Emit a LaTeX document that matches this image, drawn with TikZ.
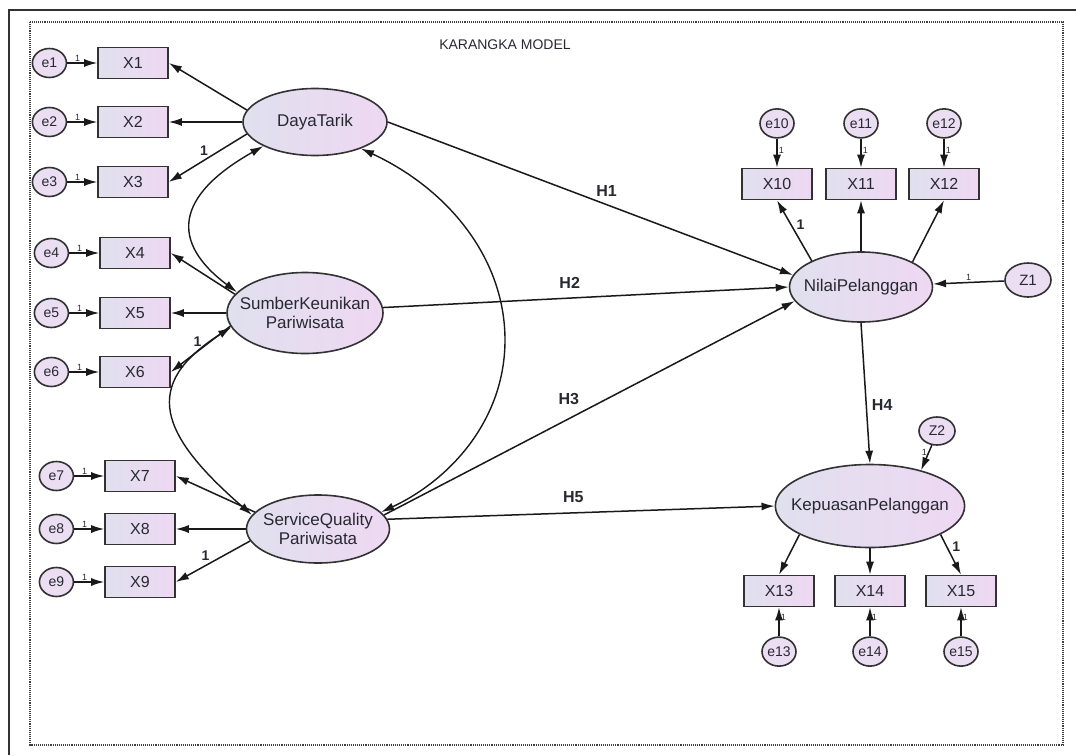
\documentclass[tikz,border=0pt]{standalone}
\usepackage{fontspec}
\setmainfont{Liberation Sans}
\usepackage{tikz}
\usetikzlibrary{arrows.meta,positioning,shapes.geometric}
\definecolor{framegray}{RGB}{50,50,50}
\definecolor{inkgray}{RGB}{40,40,50}
\definecolor{lavleft}{RGB}{224,224,238}
\definecolor{lavright}{RGB}{238,216,242}
\definecolor{errfill}{RGB}{236,222,242}

\begin{document}
\begin{tikzpicture}[x=1pt, y=-1pt, >={Latex[length=13pt,width=8pt]}, node distance=29pt and 30pt,
 every node/.style={text=inkgray},
 lat/.style={draw=framegray,ellipse,line width=1.6pt,left color=lavleft,right color=lavright,inner xsep=-12pt,align=center,font=\fontsize{17}{19}\selectfont},
 obs/.style={draw=framegray,line width=1.6pt,left color=lavleft,right color=lavright,minimum width=70pt,minimum height=31pt,inner sep=0pt,font=\fontsize{16}{16}\selectfont},
 err/.style={draw=framegray,ellipse,line width=1.6pt,fill=errfill,minimum width=34pt,minimum height=29pt,inner sep=0pt,font=\fontsize{14}{14}\selectfont},
 link/.style={->,line width=1.5pt,draw=black!90},
 cov/.style={<->,line width=1.4pt,draw=black!90},
 one/.style={inner sep=1pt,font=\fontsize{9}{9}\selectfont},
 load/.style={inner sep=1pt,font=\bfseries\fontsize{14}{14}\selectfont},
 hyp/.style={inner sep=1pt,font=\bfseries\fontsize{16}{16}\selectfont}]
\useasboundingbox (0,0) rectangle (1076,755);
\draw[framegray,line width=1.8pt] (9,755) -- (9,10) -- (1076,10);
\draw[densely dotted,line width=1.1pt,black!75] (30,22) rectangle (1063,745);
\node[font=\fontsize{14}{14}\selectfont] (title) at (505,45) {KARANGKA MODEL};

\node[lat,minimum width=144pt,minimum height=67pt] (dt) at (315,122) {DayaTarik};
\node[lat,minimum width=156pt,minimum height=81pt] (sk) at (305,313) {SumberKeunikan\\Pariwisata};
\node[lat,minimum width=143pt,minimum height=68pt] (sq) at (318,529) {ServiceQuality\\Pariwisata};
\node[lat,minimum width=143pt,minimum height=70pt] (nl) at (861,287) {NilaiPelanggan};
\node[lat,minimum width=180pt,minimum height=83pt] (kp) at (870,506) {KepuasanPelanggan};

\node[obs] (x1) at (133,63) {X1};
\node[obs] (x2) at (133,122) {X2};
\node[obs] (x3) at (133,182) {X3};
\node[obs] (x4) at (135,253) {X4};
\node[obs] (x5) at (135,313) {X5};
\node[obs] (x6) at (135,372) {X6};
\node[obs] (x7) at (140,476) {X7};
\node[obs] (x8) at (140,529) {X8};
\node[obs] (x9) at (140,582) {X9};
\node[obs] (x10) at (777,184) {X10};
\node[obs] (x11) at (861,184) {X11};
\node[obs] (x12) at (944,184) {X12};
\node[obs] (x13) at (779,591) {X13};
\node[obs] (x14) at (870,591) {X14};
\node[obs] (x15) at (961,591) {X15};

\node[err,left=of x1] (e1) {e1};
\node[err,left=of x2] (e2) {e2};
\node[err,left=of x3] (e3) {e3};
\node[err,left=of x4] (e4) {e4};
\node[err,left=of x5] (e5) {e5};
\node[err,left=of x6] (e6) {e6};
\node[err,left=of x7] (e7) {e7};
\node[err,left=of x8] (e8) {e8};
\node[err,left=of x9] (e9) {e9};
\node[err,above=of x10] (e10) {e10};
\node[err,above=of x11] (e11) {e11};
\node[err,above=of x12] (e12) {e12};
\node[err,below=of x13] (e13) {e13};
\node[err,below=of x14] (e14) {e14};
\node[err,below=of x15] (e15) {e15};
\node[err,minimum width=46pt,minimum height=34pt,font=\fontsize{15}{15}\selectfont] (z1) at (1028,280) {Z1};
\node[err,minimum width=36pt,minimum height=28pt] (z2) at (937,431) {Z2};

\draw[link] (e1) -- node[one,pos=.35,above] {1} (x1);
\draw[link] (e2) -- node[one,pos=.35,above] {1} (x2);
\draw[link] (e3) -- node[one,pos=.35,above] {1} (x3);
\draw[link] (e4) -- node[one,pos=.35,above] {1} (x4);
\draw[link] (e5) -- node[one,pos=.35,above] {1} (x5);
\draw[link] (e6) -- node[one,pos=.35,above] {1} (x6);
\draw[link] (e7) -- node[one,pos=.35,above] {1} (x7);
\draw[link] (e8) -- node[one,pos=.35,above] {1} (x8);
\draw[link] (e9) -- node[one,pos=.35,above] {1} (x9);
\draw[link] (e10) -- node[one,pos=.4,right] {1} (x10);
\draw[link] (e11) -- node[one,pos=.4,right] {1} (x11);
\draw[link] (e12) -- node[one,pos=.4,right] {1} (x12);
\draw[link] (e13) -- node[one,pos=.65,right] {1} (x13);
\draw[link] (e14) -- node[one,pos=.65,right] {1} (x14);
\draw[link] (e15) -- node[one,pos=.65,right] {1} (x15);

\draw[link] (dt.170) -- (x1.east);
\draw[link] (dt) -- (x2);
\draw[link] (dt.190) -- node[load,pos=.55,above=3pt] {1} (x3.east);
\draw[link] (sk.165) -- (x4.east);
\draw[link] (sk) -- (x5);
\draw[link] (sk.190) -- node[load,pos=.55,above=3pt] {1} (x6.east);
\draw[link] (sq.165) -- (x7.east);
\draw[link] (sq) -- (x8);
\draw[link] (sq.190) -- node[load,pos=.6,above=3pt] {1} (x9.east);

\draw[cov] (dt.205) .. controls (175,196) and (170,242) .. (sk.163);
\draw[cov] (sk.191) .. controls (140,385) and (160,435) .. (sq.168);
\draw[cov] (dt.330) .. controls (450,190) and (505,260) .. (505,340) .. controls (505,420) and (450,480) .. (sq.15);

\draw[link] (dt.east) -- node[hyp,pos=.54,above=6pt] {H1} (nl.170);
\draw[link] (sk.4) -- node[hyp,pos=.46,above=8pt] {H2} (nl.west);
\draw[link] (sq.12) -- node[hyp,pos=.45,above=12pt] {H3} (nl.192);
\draw[link] (sq.8) -- node[hyp,pos=.48,above=8pt] {H5} (kp.west);
\draw[link] (nl.south) -- node[hyp,pos=.58,right=4pt] {H4} (kp.north);
\draw[link] (z1) -- node[one,pos=.5,above] {1} (nl);
\draw[link] (z2.250) -- node[one,pos=.3,left] {1} (kp.35);

\draw[link] (nl.152) -- node[load,pos=.6,right=4pt] {1} (x10.south);
\draw[link] (nl.north) -- (x11.south);
\draw[link] (nl.26) -- (x12.south);
\draw[link] (kp.202) -- (x13.north);
\draw[link] (kp.south) -- (x14.north);
\draw[link] (kp.338) -- node[load,pos=.3,right=4pt] {1} (x15.north);
\end{tikzpicture}
\end{document}
